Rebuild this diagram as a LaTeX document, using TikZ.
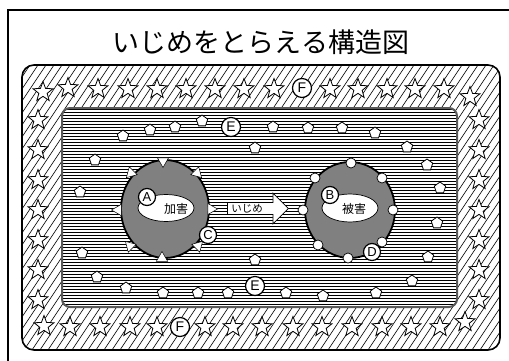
\documentclass[tikz,border=0pt]{standalone}
\usepackage{fontspec}
\setsansfont{Liberation Sans}
\newfontfamily\jp{Noto Sans CJK JP}
\usetikzlibrary{shapes.geometric,shapes.arrows}
\definecolor{midgray}{gray}{0.5}
\definecolor{edgegray}{gray}{0.35}
\begin{document}
\begin{tikzpicture}[x=1pt,y=-1pt,
  starnode/.style={star, star points=5, star point ratio=2.4, draw, fill=white, line width=0.8pt, minimum size=21pt, inner sep=0pt},
  pent/.style={regular polygon, regular polygon sides=5, draw, fill=white, line width=0.8pt, minimum size=12pt, inner sep=0pt},
  letter/.style={circle, draw, fill=white, line width=1.2pt, minimum size=17pt, inner sep=0pt, font=\sffamily\fontsize{13}{13}\selectfont},
  bigletter/.style={letter, minimum size=19pt, font=\sffamily\fontsize{14}{14}\selectfont},
  tri/.style={regular polygon, regular polygon sides=3, draw, fill=white, line width=0.5pt, minimum size=13pt, inner sep=0pt},
  dot/.style={circle, draw, fill=white, line width=0.7pt, minimum size=10pt, inner sep=0pt},
  bigcirc/.style={ellipse, draw, line width=1.8pt, fill=midgray, inner sep=0pt},
  innerell/.style={ellipse, draw, fill=white, line width=0.7pt, inner sep=0pt},
  jplabel/.style={font=\jp\fontsize{12}{12}\selectfont, inner sep=0pt},
]
\useasboundingbox (0,0) rectangle (509,361);
\clip (0,0) rectangle (509,361);
% outer frame
\draw[line width=1.5pt] (8,10) rectangle (530,380);
% hatched rounded rectangle
\fill[white, rounded corners=12pt] (22,65) rectangle (500,350);
\begin{scope}
  \clip[rounded corners=12pt] (22,65) rectangle (500,350);
  \foreach \x in {-200,-192,...,520} \draw[line width=0.65pt] (\x,350) -- ++(190,-285);
\end{scope}
\draw[line width=1.6pt, rounded corners=12pt] (22,65) rectangle (500,350);
% striped inner rectangle
\fill[white, rounded corners=8pt] (62,108) rectangle (457,307);
\begin{scope}
  \clip[rounded corners=8pt] (62,108) rectangle (457,307);
  \foreach \y in {109.5,112.5,...,306} \draw[line width=1.1pt] (62,\y) -- (457,\y);
\end{scope}
\draw[edgegray, line width=2pt, rounded corners=8pt] (62,108) rectangle (457,307);
% stars
\foreach \x/\y [count=\i] in {43/92,68/88,98/89,128/89,157/89,186/89,215/89,244/89,274/89,330/89,358/89,387/89,415/89,444/89,470/97,
  38/120,38/150,38/180,38/210,38/240,38/270,38/300,
  479/120,479/150,479/180,479/210,479/240,479/270,479/300,
  44/326,70/327,100/327,130/327,157/327,205/327,233/327,262/327,293/327,322/327,352/327,382/327,411/327,440/327,465/322}
  \node[starnode] (st\i) at (\x,\y) {};
\node[bigletter] (F1) at (302,88) {F};
\node[bigletter] (F2) at (180,327) {F};
% pentagons
\foreach \x/\y [count=\i] in {123/136,150/130,175/127,202/121,255/148,273/127,308/128,342/128,375/133,407/147,427/165,440/188,437/223,428/257,412/281,376/293,323/296,286/293,255/260,228/293,198/293,163/293,126/288,97/277,82/253,80/192,95/160}
  \node[pent] (p\i) at (\x,\y) {};
\node[bigletter] (E1) at (231,127) {E};
\node[bigletter] (E2) at (255,286) {E};
% aggressor circle
\node[bigcirc, minimum width=88pt, minimum height=98pt] (agg) at (165,209) {};
\node[innerell, minimum width=56pt, minimum height=27pt] (aggin) at (166,208) {};
\node[jplabel] (aggtext) at (176,209) {加害};
\node[letter] (A) at (147,197) {A};
\node[letter] (C) at (208,235) {C};
\node[tri, shape border rotate=180] (t1) at (163,161) {};
\node[tri, shape border rotate=135] (t2) at (131,173) {};
\node[tri, shape border rotate=225] (t3) at (197,173) {};
\node[tri, shape border rotate=90] (t4) at (118,210) {};
\node[tri, shape border rotate=-90] (t5) at (211,209) {};
\node[tri, shape border rotate=45] (t6) at (130,246) {};
\node[tri, shape border rotate=-45] (t7) at (198,246) {};
\node[tri, shape border rotate=0] (t8) at (162,258) {};
% bullying arrow
\node[single arrow, draw, fill=white, line width=0.8pt, minimum height=61pt, minimum width=31pt, single arrow head extend=7pt, inner ysep=4pt, inner xsep=2pt, anchor=tail] (ijime) at (227,208.5) {};
\node[jplabel, font=\jp\fontsize{10.5}{11}\selectfont] (ijimetext) at (247,208.5) {いじめ};
% victim circle
\node[bigcirc, minimum width=90pt, minimum height=96pt] (vic) at (350,210) {};
\node[innerell, minimum width=56pt, minimum height=28pt] (vicin) at (350,208) {};
\node[jplabel] (victext) at (354,209) {被害};
\foreach \x/\y [count=\i] in {351/163,315/178,382/178,303/210,393/210,318/245,382/242,348/258}
  \node[dot] (d\i) at (\x,\y) {};
\node[letter] (B) at (330,195) {B};
\node[letter] (D) at (372,252) {D};
% title
\node[font=\jp\fontsize{27}{30}\selectfont, inner sep=0pt] (title) at (261,42) {いじめをとらえる構造図};
\end{tikzpicture}
\end{document}
